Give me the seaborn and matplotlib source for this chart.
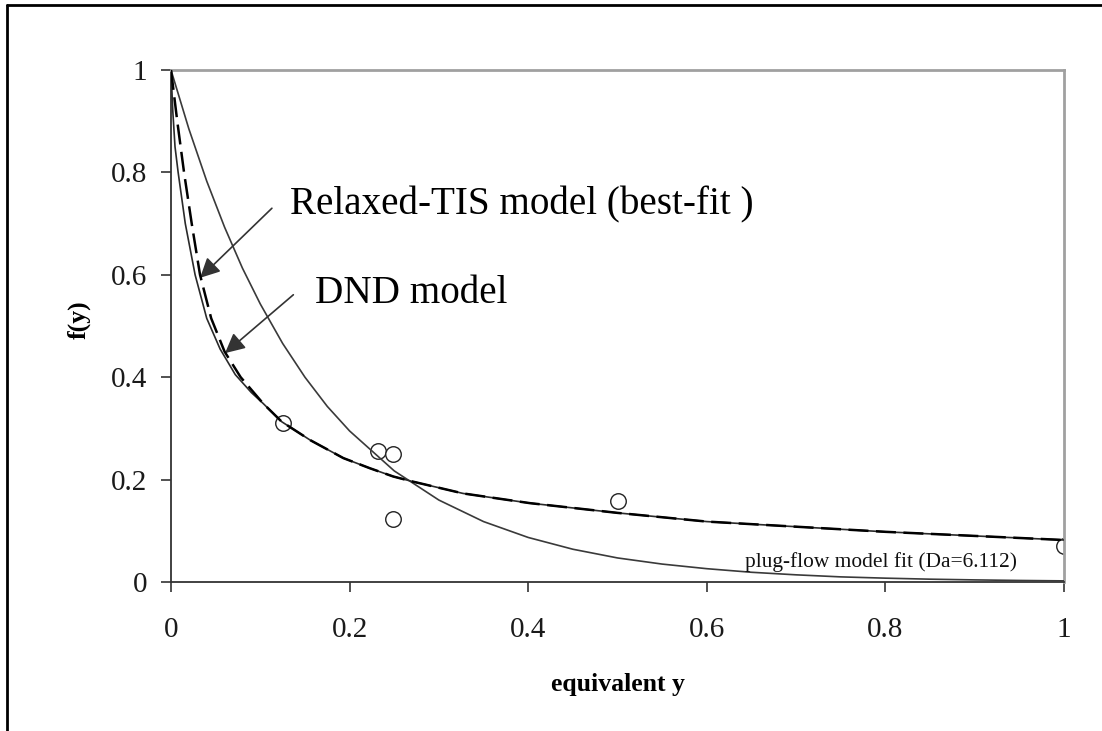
import matplotlib
matplotlib.use("Agg")
import matplotlib.pyplot as plt
from matplotlib.lines import Line2D
import seaborn as sns

# ---------------- data ----------------
# DND model curve
dnd_x = [0, 0.002, 0.0045, 0.008, 0.016, 0.027, 0.04, 0.055, 0.072, 0.09, 0.103, 0.124,
         0.156, 0.193, 0.223, 0.249, 0.271, 0.327, 0.402, 0.5, 0.6, 0.7, 0.8, 0.9, 1.0]
dnd_y = [1.0, 0.92, 0.85, 0.8, 0.7, 0.6, 0.515, 0.455, 0.405, 0.37, 0.349, 0.313,
         0.277, 0.242, 0.222, 0.206, 0.196, 0.173, 0.154, 0.135, 0.118, 0.108, 0.098, 0.09, 0.082]
# Relaxed-TIS model (best-fit) curve
tis_x = [0, 0.007, 0.0146, 0.0232, 0.0325, 0.045, 0.06, 0.078, 0.103, 0.124,
         0.156, 0.193, 0.223, 0.249, 0.271, 0.327, 0.402, 0.5, 0.6, 0.7, 0.8, 0.9, 1.0]
tis_y = [1.0, 0.9, 0.8, 0.7, 0.6, 0.515, 0.45, 0.4, 0.349, 0.313,
         0.277, 0.242, 0.222, 0.206, 0.196, 0.173, 0.154, 0.135, 0.118, 0.108, 0.098, 0.09, 0.082]
# plug-flow model fit (Da=6.112)
plug_x = [0, 0.02, 0.04, 0.06, 0.08, 0.1, 0.125, 0.15, 0.175, 0.2, 0.25, 0.3, 0.35,
          0.4, 0.45, 0.5, 0.55, 0.6, 0.65, 0.7, 0.75, 0.8, 0.85, 0.9, 0.95, 1.0]
plug_y = [1.0, 0.885, 0.783, 0.693, 0.613, 0.543, 0.466, 0.400, 0.343, 0.295, 0.217,
          0.160, 0.118, 0.087, 0.064, 0.047, 0.035, 0.026, 0.019, 0.014, 0.010, 0.0075,
          0.0055, 0.0041, 0.0030, 0.0022]
# experimental points
obs_x = [0.125, 0.232, 0.249, 0.249, 0.5, 1.0]
obs_y = [0.31, 0.256, 0.25, 0.124, 0.158, 0.071]

ticks = [0, 0.2, 0.4, 0.6, 0.8, 1]
tick_labels = ["0", "0.2", "0.4", "0.6", "0.8", "1"]

# ---------------- style ----------------
sns.set_theme(style="white")
plt.rcParams["font.family"] = ["Liberation Serif", "DejaVu Serif"]

W, H = 1102, 731
fig = plt.figure(figsize=(W / 100, H / 100), dpi=100)
fig.patch.set_facecolor("white")
L, R, T, B = 171, 1064, 70, 582
ax = fig.add_axes([L / W, 1 - B / H, (R - L) / W, (B - T) / H])

sns.scatterplot(x=obs_x, y=obs_y, ax=ax, marker="o", s=125, facecolor="white",
                edgecolor="#222222", linewidth=1.0, zorder=2, legend=False)
sns.lineplot(x=plug_x, y=plug_y, ax=ax, color="#3a3a3a", linewidth=1.2,
             errorbar=None, zorder=3)
sns.lineplot(x=dnd_x, y=dnd_y, ax=ax, color="#2a2a2a", linewidth=1.2,
             errorbar=None, zorder=3)
sns.lineplot(x=tis_x, y=tis_y, ax=ax, color="black", linewidth=1.8,
             linestyle=(0, (8, 3)), errorbar=None, zorder=4)

ax.set_xlim(0, 1)
ax.set_ylim(0, 1)
ax.set_xticks(ticks)
ax.set_xticklabels(tick_labels)
ax.set_yticks(ticks)
ax.set_yticklabels(tick_labels)
ax.tick_params(axis="x", direction="out", length=7, width=1.2, color="#333333",
               pad=18, labelsize=21, labelcolor="#1a1a1a", bottom=True)
ax.tick_params(axis="y", direction="out", length=7, width=1.2, color="#333333",
               pad=10, labelsize=21, labelcolor="#1a1a1a", left=True)

for side in ["left", "bottom"]:
    ax.spines[side].set_color("#333333")
    ax.spines[side].set_linewidth(1.3)
for side in ["top", "right"]:
    ax.spines[side].set_color("#a0a0a0")
    ax.spines[side].set_linewidth(2.0)
    ax.spines[side].set_visible(True)

ax.set_xlabel("equivalent y", fontsize=18.5, fontweight="bold", color="black")
ax.xaxis.set_label_coords(0.5, -0.201)
ax.xaxis.label.set_va("center")
ax.set_ylabel("f(y)", fontsize=18.5, fontweight="bold", color="black")
ax.yaxis.set_label_coords(-0.103, 0.513)
ax.yaxis.label.set_va("center")

# annotations
ax.text(0.133, 0.717, "Relaxed-TIS model (best-fit )", fontsize=28.2,
        va="baseline", ha="left", color="black")
ax.text(0.161, 0.545, "DND model", fontsize=28.2, va="baseline", ha="left", color="black")
ax.annotate("", xy=(0.0325, 0.594), xytext=(0.113, 0.730),
            arrowprops=dict(arrowstyle="-|>", color="#333333", lw=1.2,
                            mutation_scale=30, shrinkA=0, shrinkB=0))
ax.annotate("", xy=(0.0605, 0.447), xytext=(0.137, 0.561),
            arrowprops=dict(arrowstyle="-|>", color="#333333", lw=1.2,
                            mutation_scale=30, shrinkA=0, shrinkB=0))
ax.text(0.643, 0.030, "plug-flow model fit (Da=6.112)", fontsize=15.4,
        va="baseline", ha="left", color="#111111")

# outer figure frame (left and top edges)
fig.add_artist(Line2D([7 / W, 7 / W], [0, 1 - 5 / H], transform=fig.transFigure,
                      color="black", lw=2.0))
fig.add_artist(Line2D([7 / W, 1], [1 - 5 / H, 1 - 5 / H], transform=fig.transFigure,
                      color="black", lw=2.0))

fig.savefig("out.png", dpi=100)
